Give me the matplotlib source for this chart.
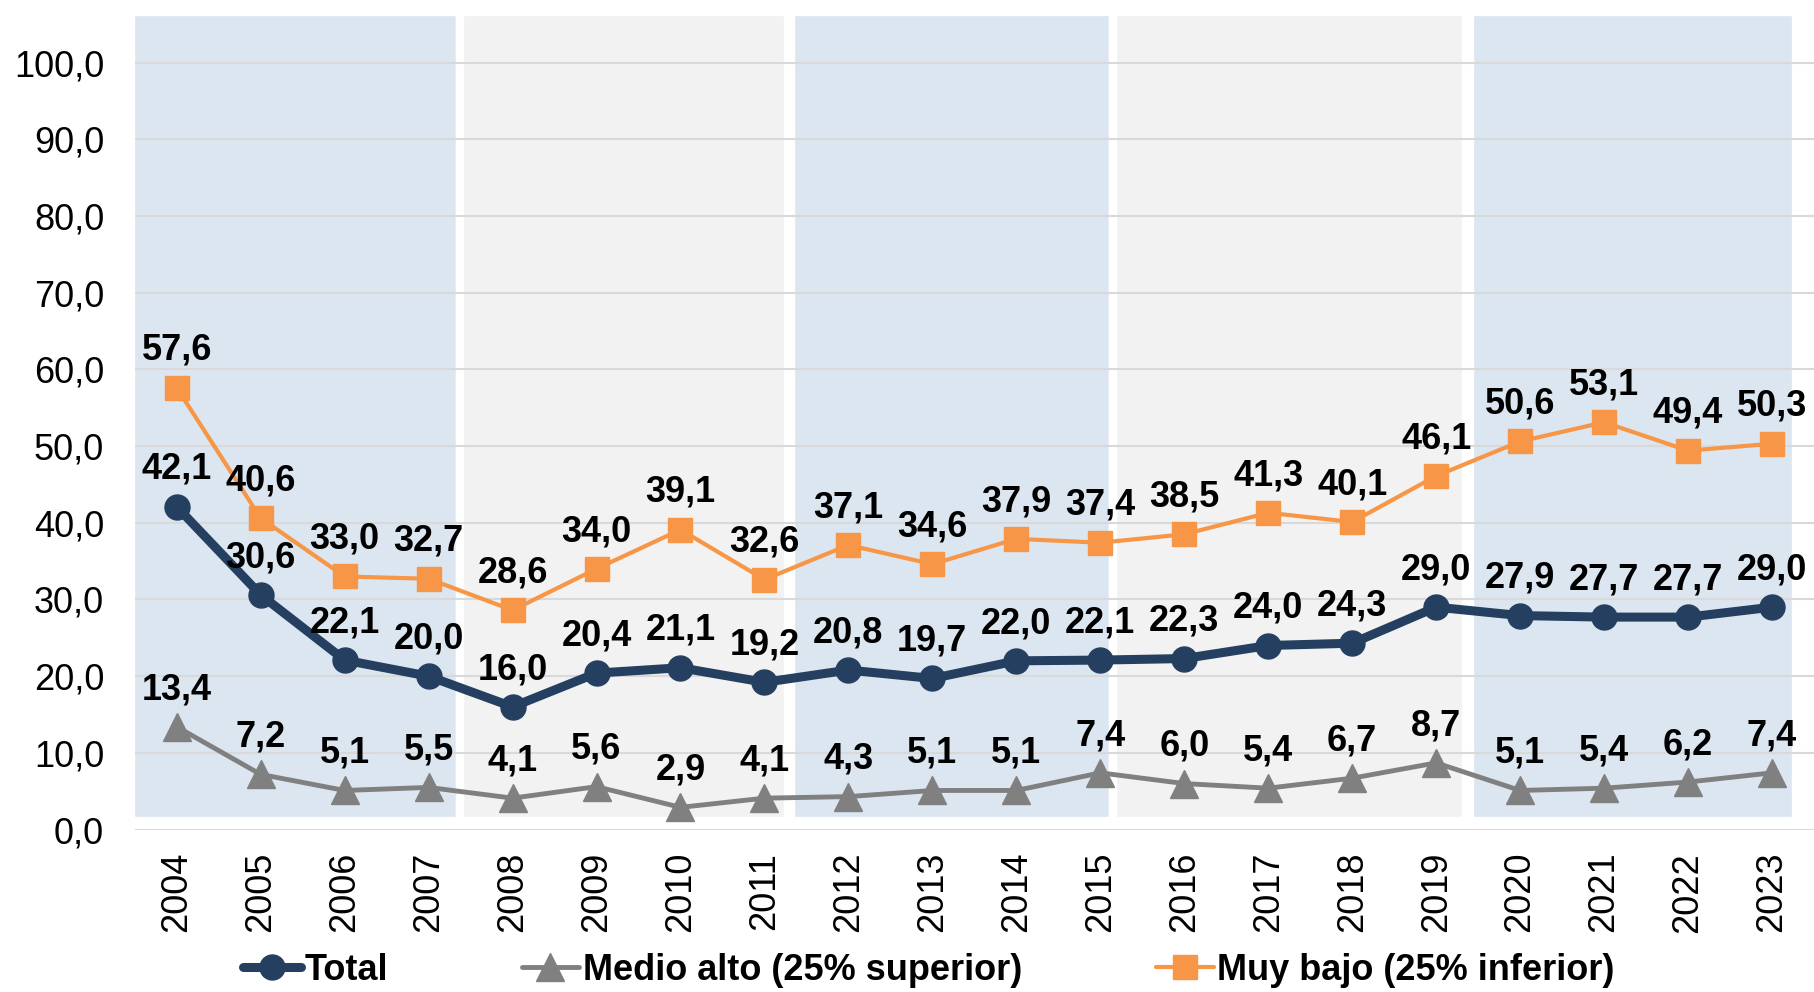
import matplotlib
matplotlib.use("Agg")
import matplotlib.pyplot as plt
import matplotlib.patheffects as pe
from matplotlib.patches import Rectangle

plt.rcParams["font.family"] = ["Liberation Sans", "DejaVu Sans"]

years = [str(y) for y in range(2004, 2024)]
total = [42.1, 30.6, 22.1, 20.0, 16.0, 20.4, 21.1, 19.2, 20.8, 19.7,
         22.0, 22.1, 22.3, 24.0, 24.3, 29.0, 27.9, 27.7, 27.7, 29.0]
medio_alto = [13.4, 7.2, 5.1, 5.5, 4.1, 5.6, 2.9, 4.1, 4.3, 5.1,
              5.1, 7.4, 6.0, 5.4, 6.7, 8.7, 5.1, 5.4, 6.2, 7.4]
muy_bajo = [57.6, 40.6, 33.0, 32.7, 28.6, 34.0, 39.1, 32.6, 37.1, 34.6,
            37.9, 37.4, 38.5, 41.3, 40.1, 46.1, 50.6, 53.1, 49.4, 50.3]
y_ticks = [0, 10, 20, 30, 40, 50, 60, 70, 80, 90, 100]

BLUE_BAND = "#dce6f1"
GREY_BAND = "#f2f2f2"
NAVY = "#243f60"
GREY = "#808080"
ORANGE = "#f79646"

fig = plt.figure(figsize=(18.14, 9.92), dpi=100)
ax = fig.add_axes([134.7 / 1814, 162.4 / 992, 1 - 134.7 / 1814, 829.6 / 992])

x = list(range(len(years)))

# shaded panels behind the series (four years each)
bands = [(-0.54, 3.38, BLUE_BAND), (3.38, 7.28, GREY_BAND),
         (7.32, 11.15, BLUE_BAND), (11.15, 15.36, GREY_BAND),
         (15.40, 19.29, BLUE_BAND)]
for x0, x1, col in bands:
    r = Rectangle((x0, 1.1), x1 - x0, 105.5, facecolor=col,
                  edgecolor="white", linewidth=6, zorder=0.5, clip_on=False)
    r.set_path_effects([pe.SimplePatchShadow(offset=(2, -2), shadow_rgbFace="0.5",
                                             alpha=0.4), pe.Normal()])
    ax.add_patch(r)

ax.set_xlim(-0.5, 19.5)
ax.set_ylim(0, 108.15)
ax.set_axisbelow("line")
ax.grid(axis="y", color="#d9d9d9", linewidth=1.5)
ax.set_yticks(y_ticks)
ax.set_yticklabels([f"{v:.1f}".replace(".", ",") for v in y_ticks], fontsize=26)
ax.set_xticks(x)
ax.set_xticklabels(years, rotation=90, fontsize=26)
ax.tick_params(axis="y", length=0, pad=22)
ax.tick_params(axis="x", length=0, pad=16)
for s in ax.spines.values():
    s.set_visible(False)
ax.set_facecolor("none")

series = [
    (total, "Total", NAVY, "o", 6.5, 18),
    (medio_alto, "Medio alto (25% superior)", GREY, "^", 3.5, 20),
    (muy_bajo, "Muy bajo (25% inferior)", ORANGE, "s", 3, 17),
]
for vals, name, col, mk, lw, ms in series:
    ax.plot(x, vals, color=col, marker=mk, linewidth=lw, markersize=ms,
            label=name, zorder=3, solid_capstyle="round", solid_joinstyle="round")
    for xi, v in zip(x, vals):
        ax.annotate(f"{v:.1f}".replace(".", ","), (xi, v), xytext=(0, 20),
                    textcoords="offset points", ha="center", va="baseline",
                    fontsize=26, fontweight="bold", zorder=4)

fig.legend(loc="center", bbox_to_anchor=(0.512, 0.022), ncol=3, frameon=False,
           prop={"size": 26, "weight": "bold"}, handlelength=1.6,
           handletextpad=0.1, columnspacing=3.7, borderpad=0)

fig.savefig("out.png", dpi=100)
